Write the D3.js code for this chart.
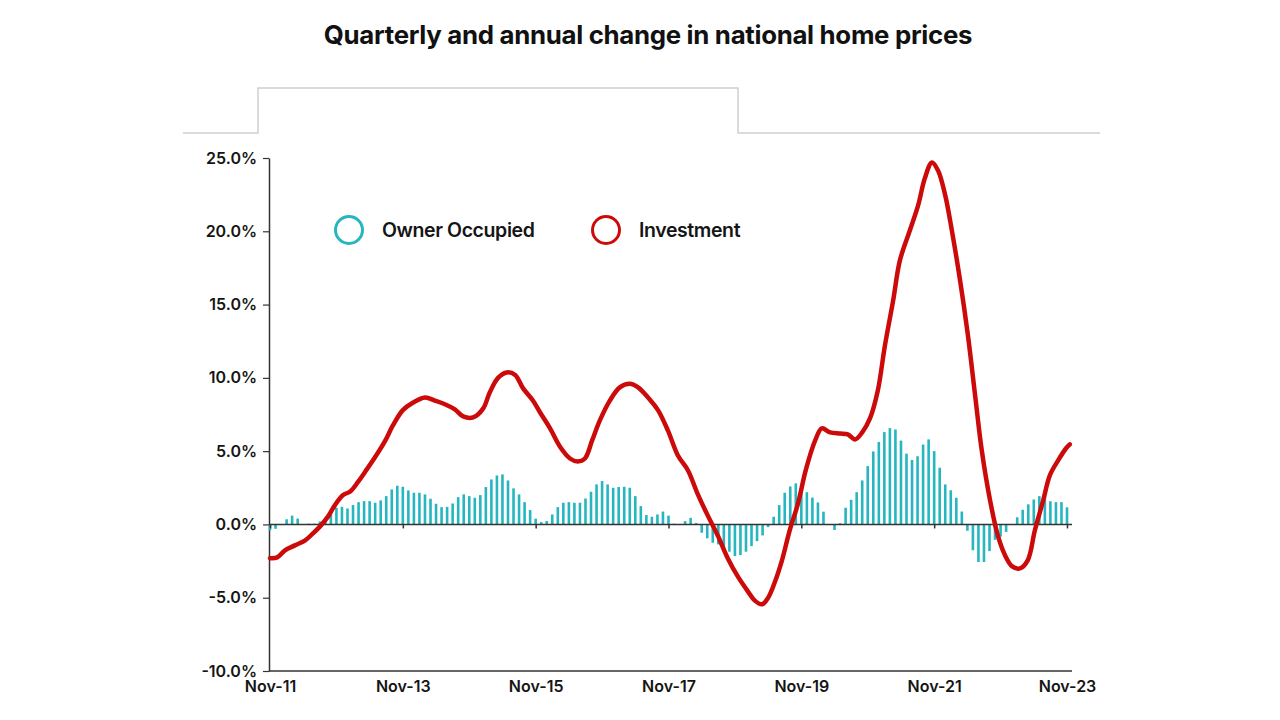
<!DOCTYPE html>
<html><head><meta charset="utf-8">
<script src="https://cdn.jsdelivr.net/npm/d3@7"></script>
<style>
html,body{margin:0;padding:0;background:#fff;}
svg{display:block;font-family:Inter,"Noto Sans",sans-serif;}
</style></head>
<body><svg id="chart" width="1280" height="720"></svg>
<script>
// ---- data ----
const title = "Quarterly and annual change in national home prices";
const seriesNames = ["Owner Occupied", "Investment"];
const xTickMonths = [0, 24, 48, 72, 96, 120, 144];
const xTickLabels = ["Nov-11", "Nov-13", "Nov-15", "Nov-17", "Nov-19", "Nov-21", "Nov-23"];
const yTicks = [-10, -5, 0, 5, 10, 15, 20, 25];
// Owner occupied: monthly values from Nov-11 (month 0) to Nov-23 (month 144)
const ownerOccupied = [
 -0.4,-0.3,0,0.35,0.6,0.4,0,0.05,0.05,0.2,0.45,0.8,
 1.14,1.2,1.09,1.32,1.52,1.59,1.59,1.48,1.64,1.93,2.39,2.64,
 2.57,2.32,2.16,2.16,2.05,1.75,1.41,1.18,1.2,1.43,1.86,2.05,
 1.93,1.82,2.0,2.55,3.07,3.34,3.41,3.0,2.46,2.05,1.52,0.98,
 0.39,0.16,0.23,0.68,1.18,1.48,1.52,1.48,1.48,1.77,2.23,2.73,
 2.96,2.73,2.5,2.55,2.57,2.5,1.93,1.25,0.64,0.52,0.68,0.88,
 0.6,0.05,0,0.23,0.45,0.1,-0.57,-0.95,-1.25,-1.36,-1.55,-1.86,
 -2.16,-2.09,-1.86,-1.48,-1.14,-0.75,-0.18,0.52,1.32,2.16,2.59,2.8,
 2.55,2.2,1.83,1.5,0.87,0,-0.38,0.09,1.14,1.68,2.2,3.0,
 3.98,4.98,5.63,6.3,6.57,6.48,5.72,4.83,4.4,4.65,5.45,5.8,
 5.0,3.87,2.73,2.33,1.82,0.88,-0.43,-1.76,-2.56,-2.56,-1.82,-1.05,
 -0.83,-0.51,0,0.49,1.0,1.37,1.7,1.93,1.95,1.58,1.52,1.52,
 1.17
];
// Investment: readings (month offset from Nov-11, value %)
const investMonths = [0,1.3,2.7,4.5,6.3,7.8,9.0,10.5,11.7,13.2,14.5,15.9,17.2,19.0,20.8,22.2,24.0,25.8,28.0,29.8,31.6,33.4,34.9,36.7,38.5,39.7,41.2,42.8,44.3,45.7,47.5,48.8,50.6,52.4,54.2,55.6,56.9,58.2,59.6,61.4,63.2,65.0,66.5,68.3,70.1,71.9,73.7,75.5,77.3,79.1,80.9,82.7,84.6,86.4,87.6,88.9,90.0,91.2,92.5,93.9,95.4,96.8,98.5,99.7,101.2,103.0,104.4,105.7,107.0,108.4,109.8,111.1,112.6,113.8,115.6,117.1,118.3,119.6,120.7,122.0,123.2,124.7,126.1,127.4,128.6,130.1,131.5,132.8,134.1,135.5,136.9,138.2,139.7,140.9,142.4,143.8,144.5];
const investValues = [-2.3,-2.25,-1.77,-1.43,-1.1,-0.6,-0.15,0.55,1.3,2.0,2.25,2.9,3.6,4.6,5.7,6.75,7.8,8.3,8.66,8.45,8.2,7.85,7.37,7.3,7.9,9.0,10.0,10.37,10.2,9.3,8.45,7.64,6.55,5.3,4.5,4.3,4.5,5.73,7.1,8.45,9.35,9.6,9.35,8.66,7.8,6.4,4.7,3.7,2.05,0.6,-0.75,-2.3,-3.6,-4.6,-5.2,-5.45,-5.0,-3.95,-2.45,-0.4,1.43,3.7,5.73,6.55,6.28,6.2,6.14,5.8,6.28,7.23,9.1,12.2,15.3,18.0,20.05,21.76,23.6,24.7,24.15,22.45,20.05,16.6,12.9,8.8,5.05,1.64,-0.75,-2.1,-2.86,-3.0,-2.45,-0.4,1.64,3.35,4.37,5.18,5.46];

// ---- drawing ----
const teal = "#26b6bf", red = "#cc0a0a", ink = "#151515";
const svg = d3.select("#chart");
const x = d3.scaleLinear().domain([0, 144]).range([270, 1067]);
const y = d3.scaleLinear().domain([-10, 25]).range([671, 158]);

svg.append("text").attr("x", 648).attr("y", 44).attr("text-anchor", "middle")
  .attr("font-size", 25.8).attr("font-weight", 700).attr("fill", "#111")
  .attr("letter-spacing", "-0.3").text(title);

// tab decoration
svg.append("path")
  .attr("d", "M183,133H258V88H738V133H1100")
  .attr("fill", "none").attr("stroke", "#d0d0d0").attr("stroke-width", 1.5);

// y axis
const yAxis = svg.append("g").attr("transform", "translate(269,0)")
  .call(d3.axisLeft(y).tickValues(yTicks).tickSize(6).tickSizeOuter(0)
    .tickFormat(d => d.toFixed(1) + "%"));
yAxis.select(".domain").attr("stroke", "#333").attr("stroke-width", 1.5);
yAxis.selectAll(".tick line").attr("stroke", "#333").attr("stroke-width", 1.2);
yAxis.selectAll(".tick text").attr("font-size", 16).attr("font-weight", 600)
  .attr("fill", ink).attr("x", -12).attr("font-family", "Inter,sans-serif");

// bottom axis line + labels
const xAxis = svg.append("g").attr("transform", "translate(0,671)")
  .call(d3.axisBottom(x).tickValues(xTickMonths).tickSize(0).tickSizeOuter(0)
    .tickFormat((d, i) => xTickLabels[i]));
xAxis.select(".domain").attr("stroke", "#333").attr("stroke-width", 1.5)
  .attr("d", "M269,0H1072");
xAxis.selectAll(".tick text").attr("font-size", 16).attr("font-weight", 600)
  .attr("fill", ink).attr("dy", "1.1em").attr("font-family", "Inter,sans-serif");

// bars
svg.append("g").selectAll("rect").data(ownerOccupied).join("rect")
  .attr("x", (d, i) => x(i) - 1.3)
  .attr("width", 2.6)
  .attr("y", d => d >= 0 ? y(d) : y(0))
  .attr("height", d => Math.abs(y(d) - y(0)))
  .attr("fill", teal);

// zero line with ticks
const zero = svg.append("g").attr("transform", `translate(0,${y(0)})`)
  .call(d3.axisBottom(x).tickValues(xTickMonths).tickSize(4).tickSizeOuter(0).tickFormat(""));
zero.select(".domain").attr("stroke", "#333").attr("stroke-width", 1.5).attr("d", "M269,0H1072");
zero.selectAll(".tick line").attr("stroke", "#333").attr("stroke-width", 1.5);

// investment line
const invest = investMonths.map((m, i) => [m, investValues[i]]);
svg.append("path").datum(invest)
  .attr("fill", "none").attr("stroke", red).attr("stroke-width", 4.5)
  .attr("stroke-linejoin", "round").attr("stroke-linecap", "round")
  .attr("d", d3.line().x(d => x(Math.min(d[0], 144.5))).y(d => y(d[1])).curve(d3.curveCatmullRom.alpha(0.5)));

// legend
const legend = [
  {name: seriesNames[0], color: teal, cx: 349, tx: 382},
  {name: seriesNames[1], color: red, cx: 606, tx: 639}
];
const lg = svg.append("g").selectAll("g").data(legend).join("g");
lg.append("circle").attr("cx", d => d.cx).attr("cy", 230).attr("r", 13.5)
  .attr("fill", "none").attr("stroke", d => d.color).attr("stroke-width", 3);
lg.append("text").attr("x", d => d.tx).attr("y", 237).attr("font-size", 19.5)
  .attr("font-weight", 600).attr("fill", ink).attr("letter-spacing", "-0.4").text(d => d.name);
</script></body></html>
